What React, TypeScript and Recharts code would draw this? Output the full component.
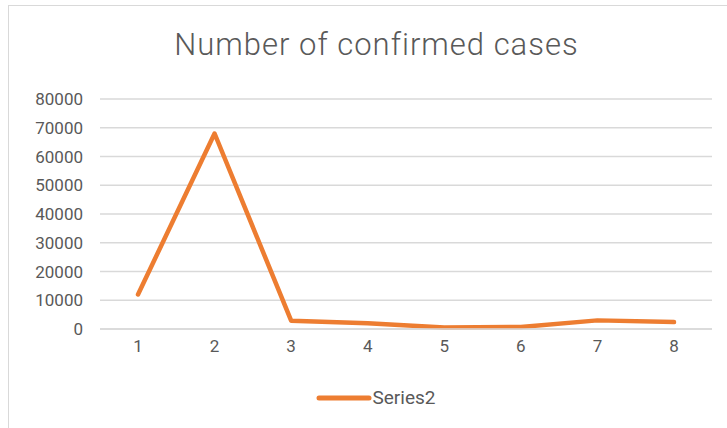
import React from 'react';
import { LineChart, Line, XAxis, YAxis, CartesianGrid, Legend } from 'recharts';

const categories = ['1', '2', '3', '4', '5', '6', '7', '8'];
const series2 = [12000, 68000, 2900, 2000, 500, 700, 3000, 2400];
const yTicks = [0, 10000, 20000, 30000, 40000, 50000, 60000, 70000, 80000];
const seriesName = 'Series2';
const titleText = 'Number of confirmed cases';

const data = categories.map((c, i) => ({ name: c, [seriesName]: series2[i] }));

const FONT = 'Roboto, "Noto Sans", sans-serif';
const GRAY = '#595959';
const ORANGE = '#ED7D31';

const renderLegend = (props: any) => {
  const { payload } = props;
  return (
    <div style={{ display: 'flex', justifyContent: 'center', alignItems: 'center' }}>
      {(payload || []).map((p: any) => (
        <div key={p.value} style={{ display: 'flex', alignItems: 'center' }}>
          <svg width={56} height={10} style={{ display: 'block' }}>
            <line x1={3} y1={5} x2={53} y2={5} stroke={ORANGE} strokeWidth={5} strokeLinecap="round" />
          </svg>
          <span style={{ fontFamily: FONT, fontSize: 19, color: GRAY, marginLeft: 1 }}>{p.value}</span>
        </div>
      ))}
    </div>
  );
};

export default function App() {
  return (
    <div style={{ position: 'absolute', left: 0, top: 0, width: 727, height: 428, background: '#fff', overflow: 'hidden' }}>
      <div
        style={{
          position: 'absolute',
          left: 8,
          top: 5,
          width: 740,
          height: 440,
          borderLeft: '1.5px solid #d9d9d9',
          borderTop: '1.5px solid #d9d9d9',
        }}
      />
      <div
        style={{
          position: 'absolute',
          left: 0,
          width: 753,
          top: 25,
          textAlign: 'center',
          fontFamily: FONT,
          fontWeight: 300,
          fontSize: 31,
          letterSpacing: 1,
          color: GRAY,
          lineHeight: '40px',
          whiteSpace: 'nowrap',
        }}
      >
        {titleText}
      </div>
      <div style={{ position: 'absolute', left: 0, top: 0 }}>
        <LineChart width={727} height={428} data={data} margin={{ top: 99, right: 15, bottom: 69, left: 20 }}>
          <CartesianGrid vertical={false} stroke="#d9d9d9" strokeWidth={1.5} />
          <XAxis
            dataKey="name"
            axisLine={{ stroke: '#d9d9d9', strokeWidth: 1.5 }}
            tickLine={false}
            height={30}
            tickMargin={5}
            padding={{ left: 38, right: 38 }}
            tick={{ fill: GRAY, fontSize: 17, fontFamily: FONT }}
          />
          <YAxis
            width={80}
            domain={[0, 80000]}
            ticks={yTicks}
            axisLine={false}
            tickLine={false}
            tickMargin={11}
            tick={{ fill: GRAY, fontSize: 17, fontFamily: FONT }}
            interval={0}
          />
          <Legend
            verticalAlign="middle"
            align="center"
            content={renderLegend}
            wrapperStyle={{ position: 'absolute', top: 386, left: 12, width: 727 }}
          />
          <Line
            type="linear"
            dataKey={seriesName}
            stroke={ORANGE}
            strokeWidth={4.5}
            strokeLinecap="round"
            strokeLinejoin="round"
            dot={false}
            activeDot={false}
            isAnimationActive={false}
          />
        </LineChart>
      </div>
    </div>
  );
}
